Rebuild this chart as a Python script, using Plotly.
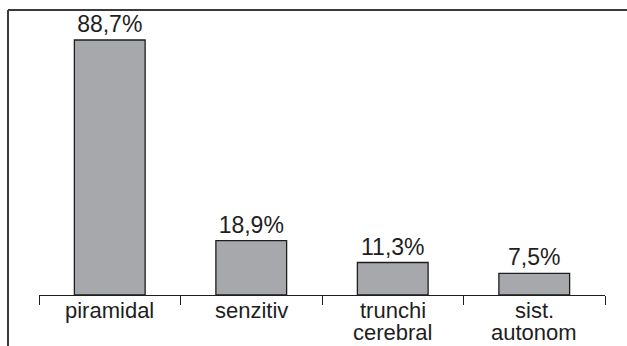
import plotly.graph_objects as go

# Data
categories = ["piramidal", "senzitiv", "trunchi<br>cerebral", "sist.<br>autonom"]
values = [88.7, 18.9, 11.3, 7.5]

W, H = 627, 346
ML, MR, MT, MB = 39, 22, 19, 51
plot_w = W - ML - MR
plot_h = H - MT - MB

FONT = "Liberation Sans, Arial, Helvetica, sans-serif"
TEXT_COLOR = "#1e1e1e"
VALUE_FONT_SIZE = 23
LABEL_FONT_SIZE = 22
LINE_STEP = 22

fig = go.Figure(
    go.Bar(
        x=categories,
        y=values,
        marker=dict(color="#a7a8ab", line=dict(color="#1e1e1e", width=1.3)),
        texttemplate="%{y:.1f}%",
        textposition="outside",
        textfont=dict(size=VALUE_FONT_SIZE, color=TEXT_COLOR, family=FONT),
        constraintext="none",
        cliponaxis=False,
        width=0.5,
    )
)

# Category labels, one annotation per line for tight line spacing
annotations = []
for cat in categories:
    for i, line in enumerate(cat.split("<br>")):
        annotations.append(
            dict(
                x=cat, y=0, xref="x", yref="y",
                text=line, showarrow=False,
                xanchor="center", yanchor="top",
                borderpad=0,
                yshift=-2 - LINE_STEP * i,
                font=dict(size=LABEL_FONT_SIZE, color=TEXT_COLOR, family=FONT),
            )
        )


def px_x(px):
    return (px - ML) / plot_w


def px_y(py):
    return (H - MB - py) / plot_h


# Frame: top and left border lines
frame = dict(color="#3a3a3a", width=2)
shapes = [
    dict(type="line", xref="paper", yref="paper",
         x0=px_x(8), x1=px_x(W + 2), y0=px_y(10), y1=px_y(10), line=frame),
    dict(type="line", xref="paper", yref="paper",
         x0=px_x(8), x1=px_x(8), y0=px_y(10), y1=px_y(H + 2), line=frame),
]

fig.update_layout(
    width=W, height=H,
    margin=dict(l=ML, r=MR, t=MT, b=MB),
    paper_bgcolor="white", plot_bgcolor="white",
    separators=",.",
    showlegend=False,
    annotations=annotations,
    shapes=shapes,
    xaxis=dict(
        showline=True, linecolor="#1e1e1e", linewidth=1,
        ticks="outside", tickson="boundaries", ticklen=9,
        tickcolor="#1e1e1e", tickwidth=1,
        showticklabels=False, showgrid=False, zeroline=False,
        fixedrange=True,
    ),
    yaxis=dict(
        range=[0, 96], visible=False, showgrid=False, zeroline=False,
        fixedrange=True,
    ),
)

fig.write_html("out.html")
